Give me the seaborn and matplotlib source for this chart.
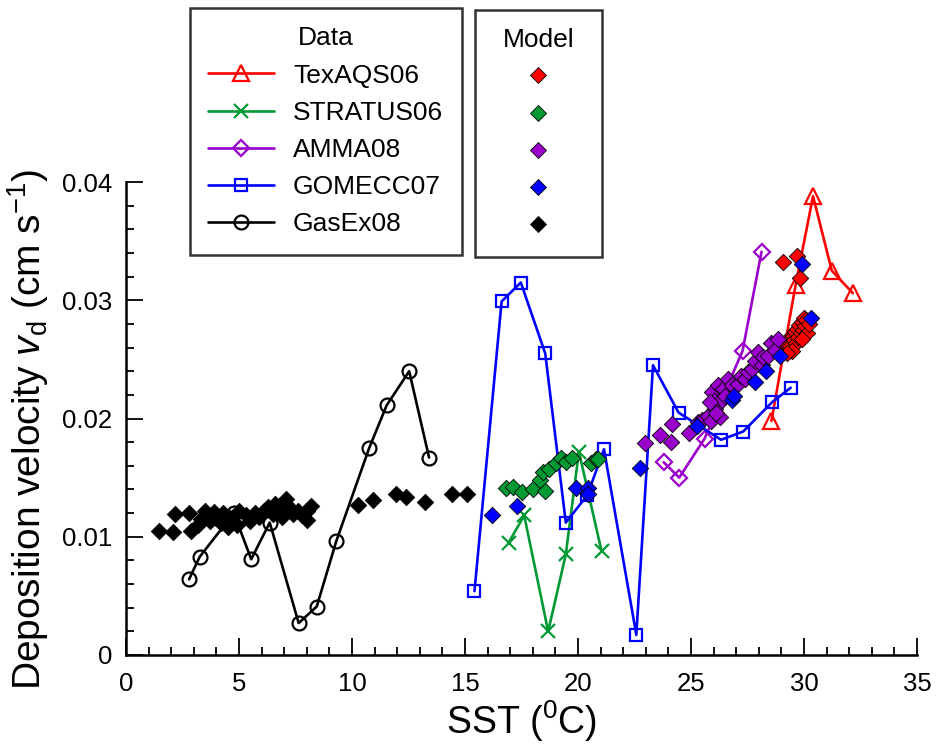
# %%
import numpy as np
import pandas as pd
import seaborn as sns
import matplotlib.pyplot as plt
from matplotlib.lines import Line2D

sns.set_style("ticks")
plt.rcParams['font.family'] = ['Liberation Sans', 'DejaVu Sans']
plt.rcParams['mathtext.fontset'] = 'custom'
plt.rcParams['mathtext.rm'] = 'Liberation Sans'
plt.rcParams['mathtext.it'] = 'Liberation Sans:italic'
for k in ['text.color', 'axes.labelcolor', 'xtick.color', 'ytick.color',
          'axes.edgecolor']:
    plt.rcParams[k] = 'black'


# %%
# measured data (lines with open markers)
tex_sst = [28.56, 29.63, 30.40, 31.23, 32.16]
tex_vd = [0.0198, 0.0313, 0.0388, 0.0325, 0.0306]

stratus_sst = [16.93, 17.62, 18.68, 19.46, 20.04, 21.04]
stratus_vd = [0.0095, 0.0118, 0.0020, 0.0085, 0.0172, 0.0088]

amma_sst = [23.79, 24.48, 25.60, 27.28, 28.12]
amma_vd = [0.0163, 0.0150, 0.0183, 0.0257, 0.0341]

gomecc_sst = [15.42, 16.62, 17.47, 18.55, 19.46, 20.41, 21.15, 22.58, 23.32,
              24.45, 26.33, 27.31, 28.60, 29.41]
gomecc_vd = [0.0054, 0.0299, 0.0315, 0.0255, 0.0112, 0.0135, 0.0174, 0.0017,
             0.0245, 0.0205, 0.0182, 0.0189, 0.0214, 0.0226]

gasex_sst = [2.79, 3.26, 4.77, 5.54, 6.36, 7.64, 8.44, 9.30, 10.76, 11.53,
             12.53, 13.41]
gasex_vd = [0.0064, 0.0083, 0.0120, 0.0081, 0.0112, 0.0027, 0.0041, 0.0096,
            0.0175, 0.0211, 0.0240, 0.0167]

# model values (filled diamonds)
m_tex_sst = [28.9, 29.0, 29.1, 29.2, 29.3, 29.35, 29.4, 29.5, 29.55, 29.6,
             29.65, 29.7, 29.75, 29.8, 29.85, 29.9, 29.95, 30.0, 30.05, 30.1,
             30.15, 29.45, 29.25, 30.2, 29.9, 29.07, 29.69, 29.84]
m_tex_vd = [0.0258, 0.0262, 0.0260, 0.0265, 0.0263, 0.0268, 0.0261, 0.0270,
            0.0266, 0.0273, 0.0264, 0.0276, 0.0269, 0.0279, 0.0272, 0.0282,
            0.0275, 0.0285, 0.0278, 0.0283, 0.0272, 0.0257, 0.0255, 0.0280,
            0.0267, 0.0332, 0.0337, 0.0319]

m_stratus_sst = [16.81, 17.14, 17.52, 18.03, 18.55, 18.33, 18.47, 18.72,
                 19.02, 19.24, 19.46, 19.75, 20.56, 20.78, 20.90]
m_stratus_vd = [0.0141, 0.0142, 0.0138, 0.0140, 0.0139, 0.0148, 0.0155,
                0.0157, 0.0162, 0.0167, 0.0163, 0.0167, 0.0162, 0.0166, 0.0166]

m_amma_sst = [22.98, 23.64, 24.15, 24.13, 24.89, 25.3, 25.5, 25.77, 25.9,
              26.07, 25.92, 26.0, 26.2, 26.36, 26.4, 26.5, 26.65, 26.8, 27.09,
              27.2, 27.4, 27.53, 27.7, 27.85, 27.97, 28.12, 28.2, 28.41, 28.56,
              28.7, 28.85, 25.84, 26.29, 26.1]
m_amma_vd = [0.0179, 0.0186, 0.0195, 0.0180, 0.0188, 0.0197, 0.0199, 0.0202,
             0.0198, 0.0208, 0.0222, 0.0215, 0.0228, 0.0216, 0.0225, 0.0219,
             0.0233, 0.0228, 0.0229, 0.0236, 0.0233, 0.0239, 0.0242, 0.0249,
             0.0256, 0.0245, 0.0252, 0.0253, 0.0264, 0.0258, 0.0267, 0.0214,
             0.0201, 0.0205]

m_gomecc_sst = [16.18, 17.28, 19.90, 20.45, 20.45, 22.73, 25.26, 26.8, 26.9,
                27.83, 28.3, 28.93, 29.91, 30.32]
m_gomecc_vd = [0.0118, 0.0126, 0.0141, 0.0141, 0.0136, 0.0158, 0.0194,
               0.0216, 0.0219, 0.0231, 0.0240, 0.0253, 0.0331, 0.0285]

m_gasex_sst = [1.47, 2.10, 2.17, 2.79, 2.86, 3.2, 3.3, 3.5, 3.6, 3.7, 3.9,
               4.0, 4.2, 4.3, 4.5, 4.6, 4.9, 5.0, 5.3, 5.5, 5.7, 5.9, 6.1,
               6.3, 6.5, 6.6, 6.8, 6.9, 7.1, 7.2, 7.4, 7.6, 7.8, 8.0, 8.2,
               8.0, 10.28, 10.94, 11.94, 12.41, 13.22, 14.43, 15.10]
m_gasex_vd = [0.0105, 0.0104, 0.0119, 0.0120, 0.0105, 0.0110, 0.0115,
              0.0122, 0.0118, 0.0113, 0.0121, 0.0116, 0.0112, 0.0120, 0.0108,
              0.0116, 0.0110, 0.0122, 0.0118, 0.0113, 0.0120, 0.0117, 0.0122,
              0.0125, 0.0119, 0.0128, 0.0124, 0.0117, 0.0132, 0.0125, 0.0119,
              0.0122, 0.0118, 0.0114, 0.0126, 0.0122, 0.0127, 0.0131, 0.0136,
              0.0134, 0.0129, 0.0136, 0.0136]

names = ['TexAQS06', 'STRATUS06', 'AMMA08', 'GOMECC07', 'GasEx08']
colors = ['#FF0000', '#009933', '#9900CC', '#0000FF', '#000000']
markers = ['^', 'x', 'D', 's', 'o']
msizes = [12, 10, 8, 8, 10]

data = [(tex_sst, tex_vd), (stratus_sst, stratus_vd), (amma_sst, amma_vd),
        (gomecc_sst, gomecc_vd), (gasex_sst, gasex_vd)]
model = [(m_tex_sst, m_tex_vd), (m_stratus_sst, m_stratus_vd),
         (m_amma_sst, m_amma_vd), (m_gomecc_sst, m_gomecc_vd),
         (m_gasex_sst, m_gasex_vd)]


# %%
fig = plt.figure(figsize=(9.36, 7.55), dpi=100)
ax = fig.add_axes([126 / 936, 100 / 755, 791 / 936, 473 / 755])

for (x, y), c, m, ms in zip(data, colors, markers, msizes):
    sns.lineplot(x=x, y=y, ax=ax, color=c, linewidth=1.9, marker=m,
                 markersize=ms, markerfacecolor='none', markeredgecolor=c,
                 markeredgewidth=1.6, sort=False, estimator=None, zorder=2)

for (x, y), c in zip(model, colors):
    sns.scatterplot(x=x, y=y, ax=ax, color=c, marker='D', s=70,
                    edgecolor='black', linewidth=0.6, zorder=3)

ax.set_xlim(0, 35)
ax.set_ylim(0, 0.04)
ax.set_xticks(np.arange(0, 36, 5))
ax.set_xticks(np.arange(0, 36, 1), minor=True)
ax.set_yticks([0, 0.01, 0.02, 0.03, 0.04])
ax.set_yticklabels(['0', '0.01', '0.02', '0.03', '0.04'])
ax.set_yticks(np.arange(0, 0.0401, 0.002), minor=True)
ax.tick_params(which='both', direction='in', width=1.3, labelsize=18.5,
               color='black')
ax.tick_params(which='major', length=12)
ax.tick_params(which='minor', length=5.5)
ax.tick_params(axis='x', pad=12)
ax.tick_params(axis='y', pad=10)
for s in ['top', 'right']:
    ax.spines[s].set_visible(False)
for s in ['left', 'bottom']:
    ax.spines[s].set_linewidth(1.8)
    ax.spines[s].set_color('black')

ax.set_xlabel('SST ($^{0}$C)', fontsize=27, labelpad=2)
ax.set_ylabel(r'Deposition velocity $v_{\rm d}$ (cm s$^{-1}$)', fontsize=28)
ax.yaxis.set_label_coords(-0.095, 0.478)

# two framed legends above the axes
h_data = [Line2D([], [], color=c, marker=m, markersize=ms, lw=1.9,
                 markerfacecolor='none', markeredgecolor=c, mew=1.6)
          for c, m, ms in zip(colors, markers, msizes)]
h_model = [Line2D([], [], linestyle='none', marker='D', markersize=8,
                  markerfacecolor=c, markeredgecolor='black', mew=0.6)
           for c in colors]

leg1 = fig.legend(h_data, names, title='Data', loc='upper left',
                  bbox_to_anchor=(190 / 936, 1 - 8 / 755), fontsize=19,
                  title_fontsize=19, frameon=True, fancybox=False,
                  edgecolor='black', borderpad=0.7, handlelength=2.5,
                  handletextpad=0.7, labelspacing=0.5, borderaxespad=0)
leg1.get_frame().set_linewidth(1.8)
leg2 = fig.legend(h_model, [''] * 5, title='Model', loc='upper left',
                  bbox_to_anchor=(475 / 936, 1 - 10 / 755), fontsize=19,
                  title_fontsize=19, frameon=True, fancybox=False,
                  edgecolor='black', borderpad=0.7, handlelength=3.4,
                  handletextpad=0, labelspacing=0.5, borderaxespad=0)
leg2.get_frame().set_linewidth(1.8)

fig.savefig('out.png', dpi=100)
